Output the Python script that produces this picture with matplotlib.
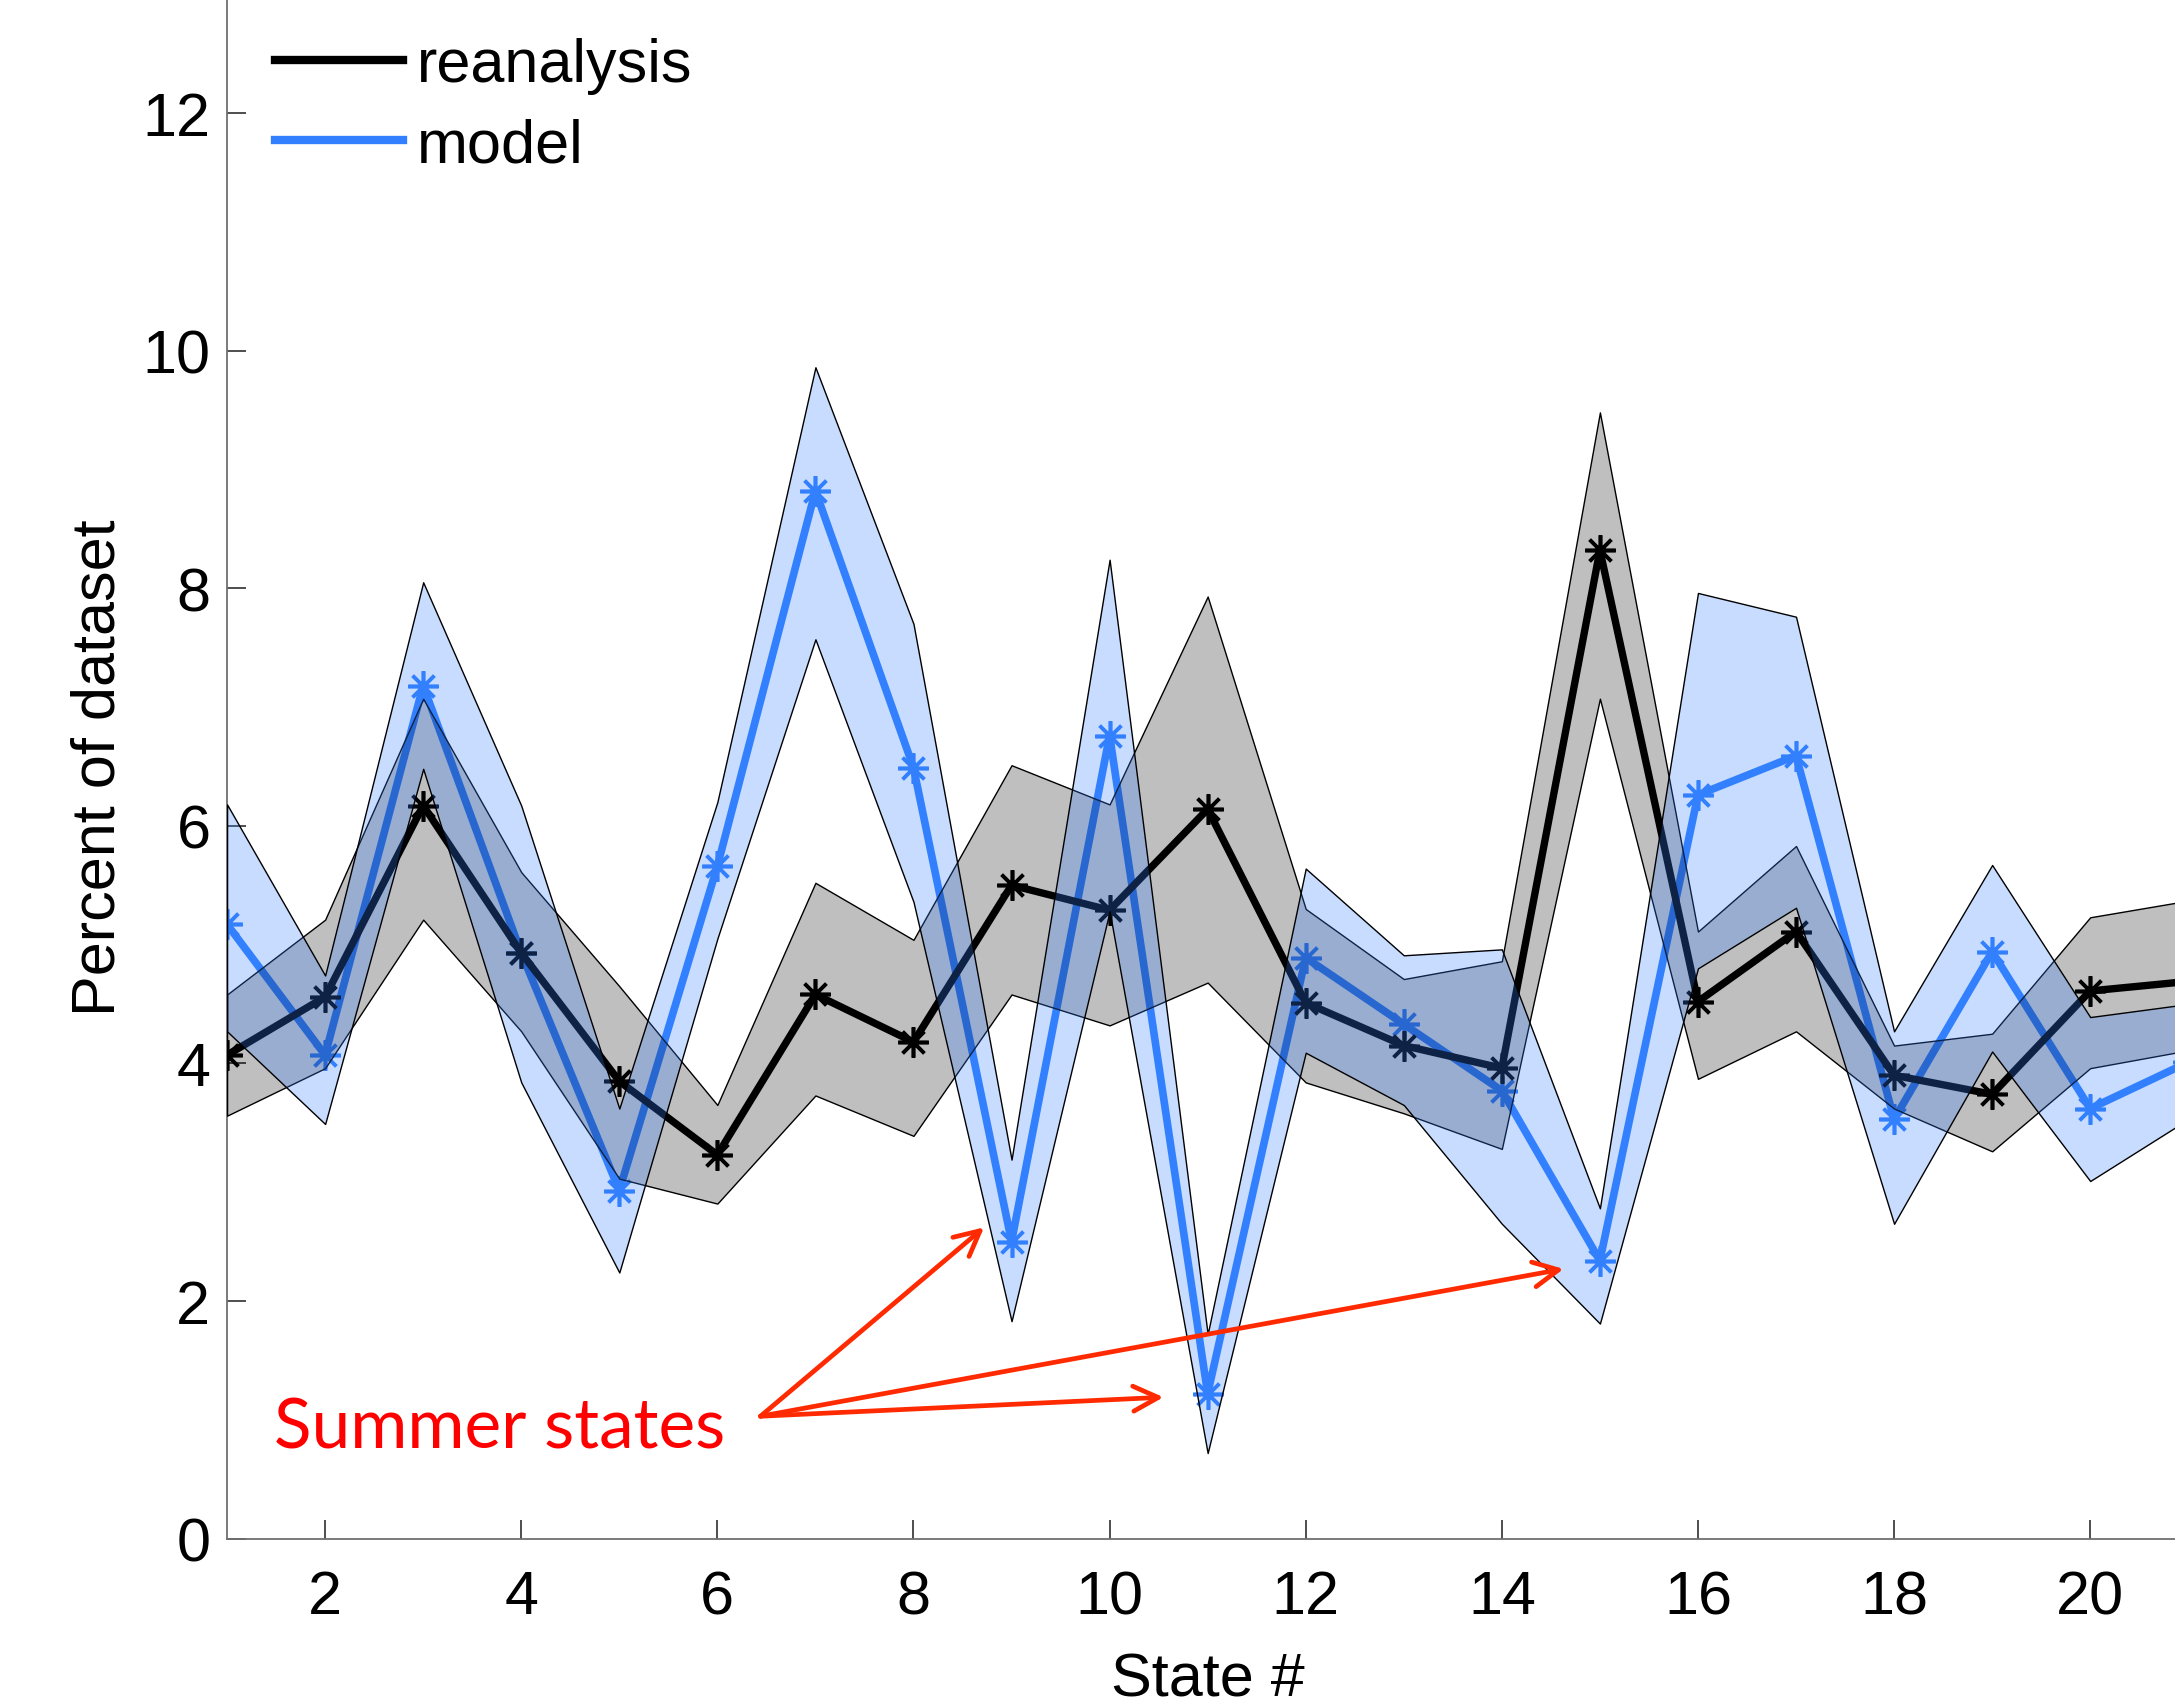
import numpy as np
import matplotlib.pyplot as plt

# ─── data ─────────────────────────────────────────────────────────────────
states = np.arange(1, 22)

reanalysis = [4.07, 4.56, 6.17, 4.93, 3.85, 3.23, 4.58, 4.18, 5.50, 5.29, 6.14,
              4.51, 4.15, 3.96, 8.32, 4.52, 5.11, 3.90, 3.74, 4.61, 4.69]
reanalysis_lo = [3.56, 3.96, 5.21, 4.27, 3.03, 2.82, 3.73, 3.39, 4.58, 4.32, 4.68,
                 3.84, 3.58, 3.28, 7.07, 3.87, 4.27, 3.62, 3.26, 3.96, 4.11]
reanalysis_hi = [4.58, 5.21, 7.07, 5.61, 4.65, 3.65, 5.52, 5.04, 6.51, 6.18, 7.93,
                 5.30, 4.71, 4.86, 9.48, 5.11, 5.83, 4.15, 4.25, 5.23, 5.37]

model = [5.17, 4.07, 7.18, 4.93, 2.93, 5.66, 8.82, 6.49, 2.50, 6.76, 1.22,
         4.89, 4.33, 3.77, 2.34, 6.26, 6.59, 3.53, 4.94, 3.62, 4.01]
model_lo = [4.27, 3.49, 6.48, 3.84, 2.24, 5.05, 7.57, 5.36, 1.83, 5.28, 0.72,
            4.09, 3.65, 2.65, 1.81, 4.80, 5.31, 2.65, 4.10, 3.01, 3.53]
model_hi = [6.18, 4.74, 8.05, 6.17, 3.62, 6.20, 9.86, 7.70, 3.19, 8.24, 1.72,
            5.64, 4.91, 4.96, 2.78, 7.96, 7.76, 4.27, 5.67, 4.39, 4.50]

xticks = [2, 4, 6, 8, 10, 12, 14, 16, 18, 20]
yticks = [0, 2, 4, 6, 8, 10, 12]

# summer states pointed at by the arrows
arrow_from = (6.44, 1.03)
arrow_to = [(8.72, 2.62), (10.55, 1.19), (14.63, 2.27)]

BLUE = '#3380ff'
asterisk = (8, 2, 0)

plt.rcParams['font.family'] = ['Liberation Sans', 'DejaVu Sans']

fig = plt.figure(figsize=(21.75, 17.08), dpi=100)
ax = fig.add_axes([0.1044, 0.0986, 0.9017, 0.9042])

# blue line first, then grey band on top, then black line, then blue band
ax.plot(states, model, color=BLUE, lw=5.5, marker=asterisk, ms=22, mew=2.6,
        mec=BLUE, zorder=2, label='model')
ax.fill_between(states, reanalysis_lo, reanalysis_hi, facecolor=(0, 0, 0, 0.25),
                edgecolor='black', lw=1.0, zorder=3)
ax.plot(states, reanalysis, color='black', lw=5.3, marker=asterisk, ms=22, mew=2.6,
        mec='black', zorder=4, label='reanalysis')
ax.fill_between(states, model_lo, model_hi, facecolor=(0.2, 0.5, 1.0, 0.27),
                edgecolor='black', lw=1.0, zorder=5)

# annotation
ax.text(1.48, 0.77, 'Summer states', color='#ff0000', fontsize=50,
        family=['Lato', 'DejaVu Sans'], ha='left', va='baseline', zorder=10)
for tip in arrow_to:
    ax.annotate('', xy=tip, xytext=arrow_from, zorder=10,
                arrowprops=dict(arrowstyle='->', color='#ff2a00', lw=3.4,
                                shrinkA=0, shrinkB=0, mutation_scale=45))

ax.set_xlim(1, 21)
ax.set_ylim(0, 13)
ax.set_xticks(xticks)
ax.set_yticks(yticks)
ax.tick_params(direction='in', length=13.5, width=1.2, labelsize=44, color='#303030')
ax.tick_params(axis='x', pad=22)
ax.tick_params(axis='y', pad=12)
for s in ['top', 'right']:
    ax.spines[s].set_visible(False)
for s in ['left', 'bottom']:
    ax.spines[s].set_color('#707070')
    ax.spines[s].set_linewidth(1.3)

ax.set_xlabel('State #', fontsize=44)
ax.set_ylabel('Percent of dataset', fontsize=44)
ax.xaxis.set_label_coords(0.5, -0.073)
ax.yaxis.set_label_coords(-0.051, 0.5)

h, l = ax.get_legend_handles_labels()
leg = ax.legend(h[::-1], l[::-1], loc='upper left', bbox_to_anchor=(0.0245, 0.972),
                frameon=False, fontsize=44, handlelength=2.1, handletextpad=0.22,
                borderpad=0, borderaxespad=0, labelspacing=0.37)
for line in leg.get_lines():
    line.set_marker('')
    line.set_linewidth(6)

fig.savefig('out.png', dpi=100)
